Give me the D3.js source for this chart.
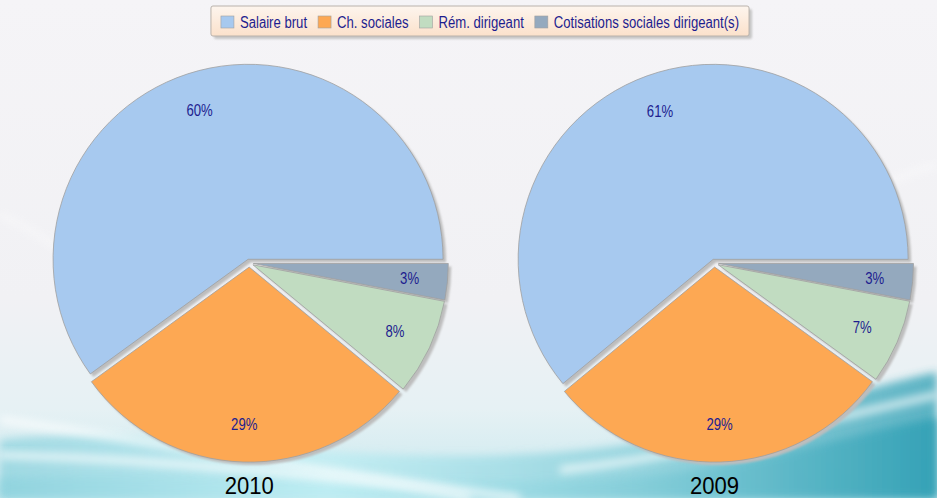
<!DOCTYPE html>
<html>
<head>
<meta charset="utf-8">
<script src="https://cdn.jsdelivr.net/npm/d3@7"></script>
<style>
  html, body { margin: 0; padding: 0; background: #f4f3f6; }
  svg { display: block; }
</style>
</head>
<body>
<div id="graph"></div>
<script>
// data
var categories = ["Salaire brut", "Ch. sociales", "Rém. dirigeant", "Cotisations sociales dirigeant(s)"];
var years = ["2010", "2009"];
var values2010 = [60, 29, 8, 3];
var values2009 = [61, 29, 7, 3];
var colors = ["#a7c9ef", "#fda853", "#c1dcc1", "#94a9be"];

var width = 937, height = 498;
var radius = 195, explode = 4;
var narrow = 0.82;   // no narrow font installed, squeeze the glyphs instead

var svg = d3.select("#graph").append("svg")
    .attr("width", width)
    .attr("height", height);

var defs = svg.append("defs");

// background gradients
var bg = defs.append("linearGradient").attr("id", "bg")
    .attr("x1", 0).attr("y1", 0).attr("x2", 0).attr("y2", 1);
bg.append("stop").attr("offset", "0%").attr("stop-color", "#f5f4f7");
bg.append("stop").attr("offset", "60%").attr("stop-color", "#f1f1f4");
bg.append("stop").attr("offset", "82%").attr("stop-color", "#e6f1f4");
bg.append("stop").attr("offset", "100%").attr("stop-color", "#c9e9ef");

var wave = defs.append("linearGradient").attr("id", "wave")
    .attr("x1", 0).attr("y1", 0).attr("x2", 1).attr("y2", 0);
wave.append("stop").attr("offset", "0%").attr("stop-color", "#8fd3de");
wave.append("stop").attr("offset", "35%").attr("stop-color", "#bdedf3");
wave.append("stop").attr("offset", "70%").attr("stop-color", "#7fcbd7");
wave.append("stop").attr("offset", "100%").attr("stop-color", "#2f9fb4");

var legendFill = defs.append("linearGradient").attr("id", "legendFill")
    .attr("x1", 0).attr("y1", 0).attr("x2", 0).attr("y2", 1);
legendFill.append("stop").attr("offset", "0%").attr("stop-color", "#fdf5ee");
legendFill.append("stop").attr("offset", "100%").attr("stop-color", "#fbe1cb");

defs.append("filter").attr("id", "blur").attr("x", "-20%").attr("y", "-20%")
    .attr("width", "140%").attr("height", "140%")
  .append("feGaussianBlur").attr("stdDeviation", 4);
defs.append("filter").attr("id", "soft")
  .append("feGaussianBlur").attr("stdDeviation", 0.8);

svg.append("rect").attr("width", width).attr("height", height).attr("fill", "url(#bg)");

// bottom wave
svg.append("path")
    .attr("d", "M0,498 L0,440 C160,420 330,470 560,452 C720,440 840,392 937,372 L937,498 Z")
    .attr("fill", "url(#wave)")
    .attr("opacity", 0.75)
    .attr("filter", "url(#blur)");
svg.append("path")
    .attr("d", "M0,498 L0,478 C200,470 420,490 620,478 C760,468 860,430 937,418 L937,498 Z")
    .attr("fill", "url(#wave)")
    .attr("opacity", 0.85)
    .attr("filter", "url(#blur)");

// white streaks
var streaks = [
  "M0,420 C150,440 300,470 520,498",
  "M0,455 C180,460 380,480 470,498",
  "M560,470 C700,455 820,420 937,395",
  "M0,215 C60,240 120,300 180,340",
  "M860,200 C890,180 915,170 937,165"
];
svg.selectAll(".streak").data(streaks).enter().append("path")
    .attr("class", "streak")
    .attr("d", function (d) { return d; })
    .attr("fill", "none")
    .attr("stroke", "#ffffff")
    .attr("stroke-width", function (d, i) { return i > 2 ? 5 : 7; })
    .attr("opacity", function (d, i) { return i > 2 ? 0.45 : 0.75; })
    .attr("filter", "url(#blur)");

function squeeze(sel, k) {
  sel.each(function () {
    var w = this.getComputedTextLength();
    d3.select(this).attr("textLength", w * k).attr("lengthAdjust", "spacingAndGlyphs");
  });
}

var x = d3.scalePoint().domain(years).range([249.3, 714.5]);
var cy = 263.1;

var pie = d3.pie().sort(null)
    .startAngle(Math.PI / 2)
    .endAngle(Math.PI / 2 - 2 * Math.PI);

var arc = d3.arc().innerRadius(0).outerRadius(radius);
var labelArc = d3.arc().innerRadius(157).outerRadius(157);

function offset(d) {
  var m = (d.startAngle + d.endAngle) / 2;
  return [explode * Math.sin(m), -explode * Math.cos(m)];
}

var series = { "2010": values2010, "2009": values2009 };

years.forEach(function (year) {
  var g = svg.append("g")
      .attr("transform", "translate(" + x(year) + "," + cy + ")");
  var arcs = pie(series[year]);

  // shadows
  g.selectAll(".shadow").data(arcs).enter().append("path")
      .attr("class", "shadow")
      .attr("d", arc)
      .attr("fill", "#bdbdbd")
      .attr("filter", "url(#soft)")
      .attr("transform", function (d) { var o = offset(d); return "translate(" + (o[0] + 3) + "," + (o[1] + 3) + ")"; });

  g.selectAll(".slice").data(arcs).enter().append("path")
      .attr("class", "slice")
      .attr("d", arc)
      .attr("fill", function (d, i) { return colors[i]; })
      .attr("stroke", "#9f9f9f")
      .attr("stroke-width", 0.8)
      .attr("transform", function (d) { var o = offset(d); return "translate(" + o[0] + "," + o[1] + ")"; });

  g.selectAll(".label").data(arcs).enter().append("text")
      .attr("class", "label")
      .attr("transform", function (d) {
        var o = offset(d), c = labelArc.centroid(d);
        return "translate(" + (c[0] + o[0]) + "," + (c[1] + o[1]) + ")";
      })
      .attr("dy", "0.36em")
      .attr("text-anchor", "middle")
      .style("font-family", "'Liberation Sans', Arial, sans-serif")
      .style("font-size", "16px")
      .attr("fill", "#1d1d8f")
      .text(function (d) { return d.data + "%"; })
      .call(squeeze, narrow);

  svg.append("text")
      .attr("x", x(year))
      .attr("y", 494)
      .attr("text-anchor", "middle")
      .style("font-family", "'Liberation Sans', Arial, sans-serif")
      .style("font-size", "24px")
      .attr("fill", "#000")
      .text(year)
      .call(squeeze, 0.92);
});

// legend
var legend = svg.append("g");
var shadowRect = legend.append("rect");
var boxRect = legend.append("rect");
var items = legend.selectAll(".item").data(categories).enter().append("g").attr("class", "item");
items.append("rect")
    .attr("width", 13).attr("height", 12)
    .attr("y", -12)
    .attr("fill", function (d, i) { return colors[i]; })
    .attr("stroke", "#a0a0a0")
    .attr("stroke-width", 0.6);
items.append("text")
    .attr("x", 19)
    .style("font-family", "'Liberation Sans', Arial, sans-serif")
    .style("font-size", "16px")
    .attr("fill", "#1d1d8f")
    .text(function (d) { return d; })
    .call(squeeze, narrow);

var pos = 0, starts = [];
items.each(function () {
  starts.push(pos);
  var w = +d3.select(this).select("text").attr("textLength");
  pos += 19 + w + 11;
});
var total = pos - 11;
var lx = 480 - total / 2;
items.attr("transform", function (d, i) { return "translate(" + (lx + starts[i]) + ",28)"; });

shadowRect.attr("x", lx - 10 + 3).attr("y", 6 + 3)
    .attr("width", total + 20).attr("height", 30).attr("rx", 2)
    .attr("fill", "#c6c6c6").attr("filter", "url(#soft)");
boxRect.attr("x", lx - 10).attr("y", 6)
    .attr("width", total + 20).attr("height", 30).attr("rx", 2)
    .attr("fill", "url(#legendFill)")
    .attr("stroke", "#b9b2ab").attr("stroke-width", 1);
</script>
</body>
</html>
